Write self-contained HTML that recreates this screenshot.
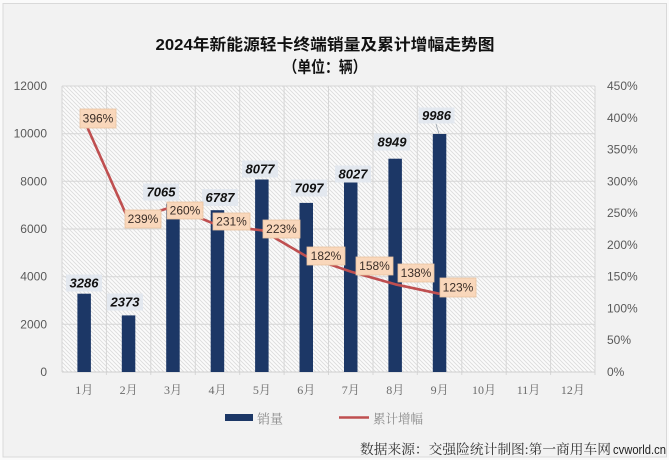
<!DOCTYPE html>
<html><head><meta charset="utf-8"><style>
html,body{margin:0;padding:0;background:#fff;}
svg{display:block;}
</style></head><body>
<svg width="669" height="460" viewBox="0 0 669 460" xmlns="http://www.w3.org/2000/svg">
<defs>
<pattern id="hatch" width="4" height="4" patternUnits="userSpaceOnUse">
<rect width="4" height="4" fill="#fbfbfb"/>
<path d="M-1,-1 L5,5 M-1,3 L1,5 M3,-1 L5,1" stroke="#dcdcdc" stroke-width="0.9"/>
</pattern>
</defs>
<rect x="0" y="0" width="669" height="460" fill="#fafafa"/>
<rect x="3" y="3.5" width="663.5" height="453.5" fill="#f2f2f2" stroke="#d9d9d9" stroke-width="1"/>

<!-- title -->
<text x="325" y="50" text-anchor="middle" font-family="'Liberation Sans','Noto Sans CJK SC',sans-serif" font-weight="bold" font-size="16" fill="#111" textLength="339" lengthAdjust="spacingAndGlyphs">2024年新能源轻卡终端销量及累计增幅走势图</text>
<text x="325" y="72.5" text-anchor="middle" font-family="'Liberation Sans','Noto Sans CJK SC',sans-serif" font-weight="bold" font-size="16" fill="#111" textLength="83" lengthAdjust="spacingAndGlyphs">（单位：辆）</text>

<!-- plot area -->
<rect x="62" y="86" width="533" height="286" fill="url(#hatch)"/>
<g stroke="#d6d6d6" stroke-width="1">
<line x1="62" y1="86" x2="595" y2="86"/>
<line x1="62" y1="133.7" x2="595" y2="133.7"/>
<line x1="62" y1="181.3" x2="595" y2="181.3"/>
<line x1="62" y1="229" x2="595" y2="229"/>
<line x1="62" y1="276.7" x2="595" y2="276.7"/>
<line x1="62" y1="324.3" x2="595" y2="324.3"/>
<line x1="62" y1="86" x2="62" y2="372"/>
<line x1="106.4" y1="86" x2="106.4" y2="375"/>
<line x1="150.8" y1="86" x2="150.8" y2="375"/>
<line x1="195.3" y1="86" x2="195.3" y2="375"/>
<line x1="239.7" y1="86" x2="239.7" y2="375"/>
<line x1="284.1" y1="86" x2="284.1" y2="375"/>
<line x1="328.5" y1="86" x2="328.5" y2="375"/>
<line x1="373" y1="86" x2="373" y2="375"/>
<line x1="417.3" y1="86" x2="417.3" y2="375"/>
<line x1="461.8" y1="86" x2="461.8" y2="375"/>
<line x1="506.2" y1="86" x2="506.2" y2="375"/>
<line x1="550.6" y1="86" x2="550.6" y2="375"/>
<line x1="595" y1="86" x2="595" y2="375"/>
</g>
<line x1="62" y1="372" x2="595" y2="372" stroke="#cfcfcf" stroke-width="1"/>

<!-- left axis labels -->
<g font-family="'Liberation Sans',sans-serif" font-size="12" fill="#595959" text-anchor="end">
<text x="47" y="90">12000</text>
<text x="47" y="137.7">10000</text>
<text x="47" y="185.3">8000</text>
<text x="47" y="233">6000</text>
<text x="47" y="280.7">4000</text>
<text x="47" y="328.3">2000</text>
<text x="47" y="376">0</text>
</g>
<!-- right axis labels -->
<g font-family="'Liberation Sans',sans-serif" font-size="12" fill="#595959">
<text x="607" y="90">450%</text>
<text x="607" y="121.8">400%</text>
<text x="607" y="153.6">350%</text>
<text x="607" y="185.3">300%</text>
<text x="607" y="217.1">250%</text>
<text x="607" y="248.9">200%</text>
<text x="607" y="280.7">150%</text>
<text x="607" y="312.4">100%</text>
<text x="607" y="344.2">50%</text>
<text x="607" y="376">0%</text>
</g>

<!-- bars -->
<g fill="#1c3766">
<rect x="77.4" y="293.7" width="13.5" height="78.3"/>
<rect x="121.8" y="315.4" width="13.5" height="56.6"/>
<rect x="166.2" y="203.6" width="13.5" height="168.4"/>
<rect x="210.7" y="210.2" width="13.5" height="161.8"/>
<rect x="255.1" y="179.5" width="13.5" height="192.5"/>
<rect x="299.5" y="202.9" width="13.5" height="169.1"/>
<rect x="344" y="180.7" width="13.5" height="191.3"/>
<rect x="388.4" y="158.7" width="13.5" height="213.3"/>
<rect x="432.8" y="134" width="13.5" height="238"/>
</g>

<!-- line -->
<polyline points="84.2,120.3 128.6,220.1 173,206.8 217.5,225.2 261.9,230.3 306.3,256.3 350.8,271.6 395.2,284.3 439.6,293.8" fill="none" stroke="#bf4f50" stroke-width="2.6" stroke-linejoin="round"/>

<!-- leader line 9986 -->
<line x1="436" y1="124" x2="439" y2="134" stroke="#9aa3ad" stroke-width="0.8"/>

<!-- value labels -->
<g fill="#e3e8ef">
<rect x="66" y="274.5" width="36" height="17"/>
<rect x="107" y="293.5" width="36" height="17"/>
<rect x="143" y="183.5" width="36" height="17"/>
<rect x="202" y="189" width="36" height="17"/>
<rect x="242" y="160.5" width="36" height="17"/>
<rect x="291" y="179.5" width="36" height="17"/>
<rect x="335" y="165.5" width="36" height="17"/>
<rect x="374" y="133.5" width="36" height="17"/>
<rect x="418.5" y="107.5" width="36" height="16"/>
</g>
<g font-family="'Liberation Sans',sans-serif" font-size="13" font-weight="bold" font-style="italic" fill="#111" text-anchor="middle">
<text x="84" y="287.5">3286</text>
<text x="125" y="306.5">2373</text>
<text x="161" y="196.5">7065</text>
<text x="220" y="202">6787</text>
<text x="260" y="173.5">8077</text>
<text x="309" y="192.5">7097</text>
<text x="353" y="178.5">8027</text>
<text x="392" y="146.5">8949</text>
<text x="436.5" y="120">9986</text>
</g>

<!-- percent labels -->
<g fill="#f9d7bb" stroke="#e8c3a2" stroke-width="0.8">
<rect x="80" y="109" width="36" height="19"/>
<rect x="125" y="210" width="36" height="18"/>
<rect x="167" y="202" width="36" height="17"/>
<rect x="213" y="213" width="37" height="17"/>
<rect x="263" y="220" width="37" height="18"/>
<rect x="307" y="247" width="38" height="18"/>
<rect x="356" y="257" width="37" height="18"/>
<rect x="398" y="264" width="36" height="18"/>
<rect x="440" y="278" width="36" height="19"/>
</g>
<g font-family="'Liberation Sans',sans-serif" font-size="12" fill="#3a2e28" text-anchor="middle">
<text x="98" y="122.5">396%</text>
<text x="143" y="223">239%</text>
<text x="185" y="214.5">260%</text>
<text x="231.5" y="225.5">231%</text>
<text x="281.5" y="233">223%</text>
<text x="326" y="260">182%</text>
<text x="374.5" y="270">158%</text>
<text x="416" y="277">138%</text>
<text x="458" y="291.5">123%</text>
</g>

<!-- category labels -->
<g font-family="'Liberation Serif','Noto Serif CJK SC',serif" font-size="12" fill="#6b6b6b" text-anchor="middle">
<text x="84.2" y="394">1月</text>
<text x="128.6" y="394">2月</text>
<text x="173" y="394">3月</text>
<text x="217.5" y="394">4月</text>
<text x="261.9" y="394">5月</text>
<text x="306.3" y="394">6月</text>
<text x="350.8" y="394">7月</text>
<text x="395.2" y="394">8月</text>
<text x="439.6" y="394">9月</text>
<text x="484" y="394">10月</text>
<text x="528.5" y="394">11月</text>
<text x="572.9" y="394">12月</text>
</g>

<!-- legend -->
<rect x="225" y="414" width="28" height="7" fill="#1c3766"/>
<text x="257" y="423.5" font-family="'Liberation Serif','Noto Serif CJK SC',serif" font-size="13" fill="#8a8a8a">销量</text>
<line x1="339" y1="417.5" x2="369" y2="417.5" stroke="#bf4f50" stroke-width="2.6"/>
<text x="373" y="423.5" font-family="'Liberation Serif','Noto Serif CJK SC',serif" font-size="13" fill="#8a8a8a" textLength="50" lengthAdjust="spacingAndGlyphs">累计增幅</text>

<!-- footer -->
<text x="360" y="454" font-family="'Liberation Serif','Noto Serif CJK SC',serif" font-size="13.5" fill="#333" textLength="251" lengthAdjust="spacingAndGlyphs">数据来源：交强险统计制图:第一商用车网</text>
<text x="613" y="454" font-family="'Liberation Sans',sans-serif" font-size="13" fill="#222" textLength="53" lengthAdjust="spacingAndGlyphs">cvworld.cn</text>
</svg>
</body></html>
